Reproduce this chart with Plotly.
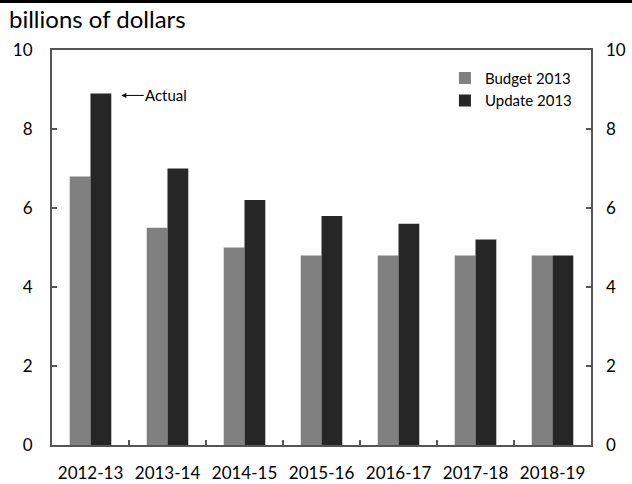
import plotly.graph_objects as go

categories = ["2012-13", "2013-14", "2014-15", "2015-16", "2016-17", "2017-18", "2018-19"]
budget_2013 = [6.8, 5.5, 5.0, 4.8, 4.8, 4.8, 4.8]
update_2013 = [8.9, 7.0, 6.2, 5.8, 5.6, 5.2, 4.8]
y_ticks = [0, 2, 4, 6, 8, 10]
series_names = ["Budget 2013", "Update 2013"]

FONT = "Lato"
AXIS = "#555555"

fig = go.Figure()
fig.add_trace(go.Bar(x=categories, y=budget_2013, name=series_names[0],
                     marker=dict(color="#808080", line=dict(width=0))))
fig.add_trace(go.Bar(x=categories, y=update_2013, name=series_names[1],
                     marker=dict(color="#262626", line=dict(width=0))))
# invisible trace to activate right axis
fig.add_trace(go.Scatter(x=categories, y=update_2013, yaxis="y2", mode="none",
                         showlegend=False, hoverinfo="skip"))

fig.update_layout(
    width=632, height=484,
    margin=dict(l=52, r=41, t=50, b=39, autoexpand=False),
    paper_bgcolor="white", plot_bgcolor="white",
    barmode="group", bargap=0.46, bargroupgap=0,
    font=dict(family=FONT, color="black", size=17),
    title=dict(text="billions of dollars", x=9/632, xref="container", xanchor="left",
               y=1-20/484, yref="container", yanchor="middle",
               font=dict(family=FONT, size=24, color="black")),
    xaxis=dict(type="category", showline=True, linecolor=AXIS, linewidth=2, mirror=True,
               ticks="inside", tickson="boundaries", ticklen=5, tickwidth=2, tickcolor=AXIS,
               showgrid=False, tickfont=dict(size=17), ticklabelstandoff=12, automargin=False),
    yaxis=dict(range=[0, 10], tickvals=y_ticks, showline=True, linecolor=AXIS, linewidth=2,
               mirror=True, ticks="inside", ticklen=5, tickwidth=2, tickcolor=AXIS,
               showgrid=False, zeroline=False, tickfont=dict(size=17), ticklabelstandoff=14,
               automargin=False),
    yaxis2=dict(range=[0, 10], tickvals=y_ticks, overlaying="y", side="right",
                showline=False, ticks="inside", ticklen=5, tickwidth=2, tickcolor=AXIS,
                showgrid=False, zeroline=False, tickfont=dict(size=17), ticklabelstandoff=14,
                automargin=False),
    legend=dict(x=0.729, y=0.97, xanchor="left", yanchor="top", bgcolor="rgba(0,0,0,0)",
                font=dict(family=FONT, size=15), tracegroupgap=0, itemwidth=30),
    showlegend=True,
)

fig.add_annotation(x=0.4, y=8.85, xref="x", yref="y", text="Actual", showarrow=True,
                   ax=45, ay=0, arrowhead=2, arrowsize=1, arrowwidth=1, arrowcolor="black",
                   font=dict(family=FONT, size=15, color="black"))

# top rule
fig.add_shape(type="line", xref="paper", yref="paper",
              x0=-52/539, x1=(632-52)/539, y0=1+48.5/395, y1=1+48.5/395,
              line=dict(color="black", width=3))

fig.write_html("out.html", config={"displayModeBar": False},
               post_script="document.body.style.margin='0';document.body.style.overflow='hidden';")
